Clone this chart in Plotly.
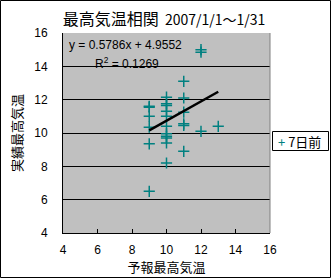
import plotly.graph_objects as go

# Data
forecast = [9, 9, 9, 9, 9, 9,
            10, 10, 10, 10, 10, 10, 10, 10, 10, 10, 10,
            11, 11, 11, 11, 11, 11,
            12, 12, 12,
            13]
actual = [11.6, 11.55, 11.0, 10.35, 9.35, 6.5,
          12.15, 11.75, 11.65, 11.3, 11.0, 10.4, 9.95, 9.8, 9.7, 9.4, 8.2,
          13.1, 12.1, 11.25, 10.55, 10.45, 8.9,
          15.0, 14.85, 10.1,
          10.4]
slope = 0.5786
intercept = 4.9552
r2 = 0.1269
x_ticks = [4, 6, 8, 10, 12, 14, 16]
y_ticks = [4, 6, 8, 10, 12, 14, 16]
series_name = "7日前"
title_main = "最高気温相関"
title_period = "2007/1/1～1/31"
x_title = "予報最高気温"
y_title = "実績最高気温"

W, H = 331, 278
L, R, T, B = 63, 61, 33, 45
PW, PH = W - L - R, H - T - B
FONT = "Liberation Sans, Noto Sans CJK JP, sans-serif"
JFONT = "Noto Sans CJK JP, sans-serif"
TEAL = "#008080"

xmin, xmax = min(forecast), max(forecast)

fig = go.Figure()
fig.add_trace(go.Scatter(
    x=forecast, y=actual, mode="markers", name=series_name,
    marker=dict(symbol="cross-thin", size=8, color=TEAL,
                line=dict(color=TEAL, width=1.5)),
    showlegend=False,
))
fig.add_trace(go.Scatter(
    x=[xmin, xmax], y=[slope * xmin + intercept, slope * xmax + intercept],
    mode="lines", line=dict(color="black", width=2.5), showlegend=False,
    hoverinfo="skip",
))

fig.update_layout(
    width=W, height=H,
    margin=dict(l=L, r=R, t=T, b=B),
    paper_bgcolor="white", plot_bgcolor="#C0C0C0",
    font=dict(family=FONT, size=12, color="black"),
    title=dict(text=f"<span style='font-size:16px'>{title_main}</span>  {title_period}",
               x=164 / W, xanchor="center", y=1 - 20 / H,
               yanchor="middle", font=dict(family=JFONT, size=14)),
    showlegend=False,
    xaxis=dict(range=[4, 16], tickvals=x_ticks, ticks="inside", ticklen=4,
               tickcolor="black", showgrid=False, zeroline=False,
               showline=True, linecolor="black", linewidth=1,
               ticklabelstandoff=6,
               title=dict(text=x_title, standoff=0,
                          font=dict(family=JFONT, size=13))),
    yaxis=dict(range=[4, 16], tickvals=y_ticks, ticks="inside", ticklen=4,
               tickcolor="black", showgrid=True, gridcolor="black",
               gridwidth=1, zeroline=False, showline=True, linecolor="black",
               linewidth=1, ticklabelstandoff=12,
               title=dict(text=y_title, standoff=8,
                          font=dict(family=JFONT, size=13))),
)

def px_x(px):
    return (px - L) / PW

def px_y(py):
    return 1 - (py - T) / PH

# right plot border (gray)
fig.add_shape(type="line", xref="paper", yref="paper", x0=1, x1=1, y0=0, y1=1,
              line=dict(color="#808080", width=1))
# outer chart border
fig.add_shape(type="rect", xref="paper", yref="paper",
              x0=px_x(0.5), x1=px_x(W - 0.5), y0=px_y(H - 0.5), y1=px_y(0.5),
              line=dict(color="black", width=1), layer="above")

# legend box (drawn manually to match compact Excel legend)
fig.add_shape(type="rect", xref="paper", yref="paper",
              x0=px_x(272.5), x1=px_x(328.5), y0=px_y(150.5), y1=px_y(131.5),
              line=dict(color="black", width=1), fillcolor="white")
fig.add_annotation(xref="paper", yref="paper", x=px_x(276), y=px_y(141),
                   xanchor="left", yanchor="middle", showarrow=False,
                   text=f"<span style='color:{TEAL}'>+</span> {series_name}",
                   font=dict(family=JFONT, size=13))

# trendline equation (two lines; second line indented like Excel)
fig.add_annotation(xref="paper", yref="paper", x=px_x(67), y=px_y(36),
                   xanchor="left", yanchor="top", align="left", showarrow=False,
                   text=f"y = {slope}x + {intercept}", font=dict(family=FONT, size=12))
fig.add_annotation(xref="paper", yref="paper", x=px_x(93), y=px_y(53),
                   xanchor="left", yanchor="top", align="left", showarrow=False,
                   text=f"R<sup>2</sup> = {r2}", font=dict(family=FONT, size=12))

fig.write_html("out.html")
